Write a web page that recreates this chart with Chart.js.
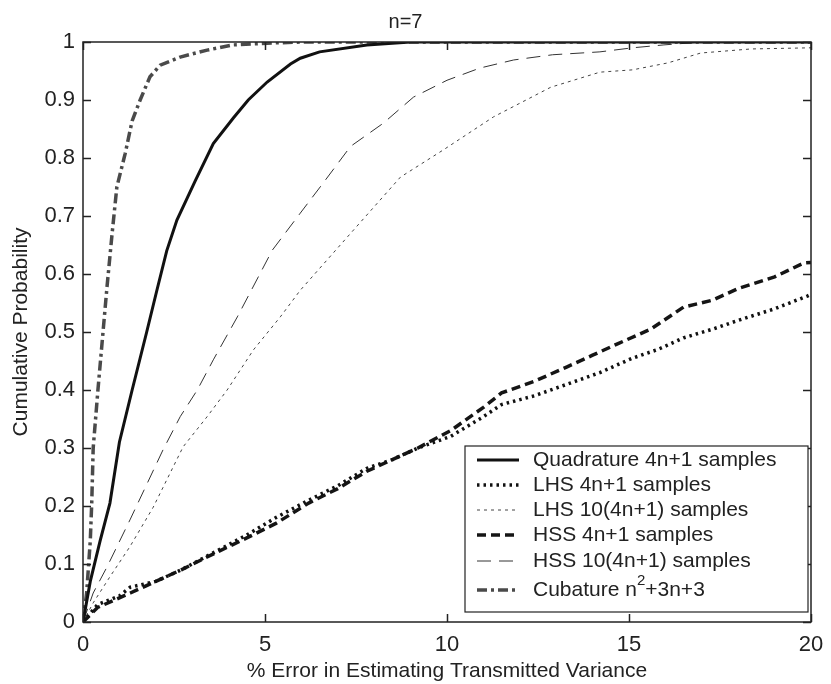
<!DOCTYPE html>
<html lang="en">
  <head>
    <title>n=7</title>
    <meta charset="utf-8">
    <script src="https://cdn.jsdelivr.net/npm/chart.js@4.4.1/dist/chart.umd.min.js"></script>
    <style>
      body { margin: 0; background: #fff; }
    </style>
  </head>
  <body>
    <canvas id="chart_cdf" width="831" height="684"></canvas>

    <script>
      // values: x = % error, y = cumulative probability
      const quadX = [0, 0.2, 0.47, 0.74, 1.0, 1.35, 1.75, 2.03, 2.3, 2.58, 3.08, 3.58, 4.13, 4.54, 5.06, 5.7, 5.97, 6.5, 7.8, 9.0, 20];
      const quadY = [0, 0.07, 0.14, 0.205, 0.31, 0.4, 0.5, 0.572, 0.64, 0.693, 0.76, 0.825, 0.869, 0.9, 0.931, 0.962, 0.972, 0.983, 0.995, 1, 1];

      const lhsX = [0, 0.4, 1.0, 1.3, 2.0, 2.7, 3.6, 4.5, 5.3, 6.2, 7.0, 7.8, 8.5, 9.2, 10.1, 11.0, 11.5, 12.4, 13.3, 14.2, 15.1, 15.8, 16.5, 17.3, 18.0, 19.0, 19.9, 20];
      const lhsY = [0, 0.03, 0.045, 0.06, 0.07, 0.09, 0.12, 0.15, 0.18, 0.21, 0.235, 0.265, 0.28, 0.3, 0.32, 0.354, 0.375, 0.39, 0.41, 0.43, 0.455, 0.47, 0.49, 0.505, 0.52, 0.54, 0.562, 0.565];

      const lhs10X = [0, 0.28, 0.74, 1.29, 1.93, 2.75, 3.41, 3.96, 4.68, 5.42, 5.97, 7.35, 8.72, 9.9, 11.28, 12.85, 14.2, 15.1, 16.07, 16.97, 18.35, 20];
      const lhs10Y = [0, 0.033, 0.078, 0.13, 0.198, 0.302, 0.354, 0.4, 0.469, 0.526, 0.572, 0.67, 0.767, 0.814, 0.871, 0.922, 0.948, 0.952, 0.964, 0.981, 0.988, 0.99];

      const hssX = [0, 0.4, 1.3, 2.0, 2.7, 3.6, 4.5, 5.3, 6.2, 7.0, 7.8, 8.5, 9.2, 10.1, 11.0, 11.5, 12.4, 13.3, 14.0, 14.7, 15.6, 16.5, 17.3, 18.0, 19.0, 19.8, 20];
      const hssY = [0, 0.025, 0.05, 0.07, 0.09, 0.118, 0.145, 0.17, 0.205, 0.23, 0.26, 0.28, 0.3, 0.33, 0.37, 0.395, 0.415, 0.44, 0.46, 0.48, 0.505, 0.543, 0.555, 0.575, 0.595, 0.619, 0.62];

      const hss10X = [0, 0.28, 0.66, 1.29, 2.2, 2.67, 3.14, 3.58, 4.24, 5.2, 5.97, 6.6, 7.35, 8.25, 9.08, 10, 10.9, 11.83, 12.9, 14.2, 15.1, 15.96, 17, 20];
      const hss10Y = [0, 0.05, 0.095, 0.176, 0.297, 0.354, 0.4, 0.452, 0.526, 0.641, 0.705, 0.757, 0.82, 0.86, 0.905, 0.934, 0.955, 0.969, 0.978, 0.983, 0.99, 0.995, 1, 1];

      const cubX = [0, 0.1, 0.2, 0.24, 0.28, 0.41, 0.55, 0.66, 0.8, 0.93, 1.16, 1.35, 1.57, 1.84, 2.12, 2.67, 3.41, 4.13, 5.06, 6, 20];
      const cubY = [0, 0.05, 0.14, 0.205, 0.3, 0.4, 0.5, 0.578, 0.67, 0.75, 0.808, 0.864, 0.9, 0.94, 0.96, 0.974, 0.986, 0.995, 0.998, 1, 1];

      const seriesLabels = ['Quadrature 4n+1 samples', 'LHS 4n+1 samples', 'LHS 10(4n+1) samples',
                            'HSS 4n+1 samples', 'HSS 10(4n+1) samples', 'Cubature n\u00b2+3n+3'];

      const FONT = "'Liberation Sans', Arial, sans-serif";

      function pts(xs, ys) {
        return xs.map((v, i) => ({x: v, y: ys[i]}));
      }

      // box round the plot with MATLAB style inward ticks on all four sides
      const frame = {
        id: 'frame',
        afterDatasetsDraw(chart) {
          const {ctx, chartArea: a, scales: {x, y}} = chart;
          const len = 8;
          ctx.save();
          ctx.strokeStyle = '#222';
          ctx.lineWidth = 1.5;
          ctx.strokeRect(a.left, a.top, a.right - a.left, a.bottom - a.top);
          ctx.beginPath();
          x.ticks.forEach(t => {
            const px = Math.round(x.getPixelForValue(t.value)) + 0.5;
            ctx.moveTo(px, a.bottom); ctx.lineTo(px, a.bottom - len);
            ctx.moveTo(px, a.top); ctx.lineTo(px, a.top + len);
          });
          y.ticks.forEach(t => {
            const py = Math.round(y.getPixelForValue(t.value)) + 0.5;
            ctx.moveTo(a.left, py); ctx.lineTo(a.left + len, py);
            ctx.moveTo(a.right, py); ctx.lineTo(a.right - len, py);
          });
          ctx.stroke();
          ctx.restore();
        }
      };

      // legend box in the lower right corner, with line samples
      const boxLegend = {
        id: 'boxLegend',
        afterDraw(chart) {
          const {ctx, chartArea: a} = chart;
          const right = a.right - 3, bottom = a.bottom - 10;
          const w = 343, h = 166;
          const left = right - w, top = bottom - h;
          const rows = [14, 39, 64, 89, 115, 144];
          ctx.save();
          ctx.fillStyle = '#fff';
          ctx.fillRect(left, top, w, h);
          ctx.strokeStyle = '#222';
          ctx.lineWidth = 1.2;
          ctx.strokeRect(left, top, w, h);
          chart.data.datasets.forEach((ds, i) => {
            const yy = top + rows[i];
            ctx.save();
            ctx.strokeStyle = ds.borderColor;
            ctx.lineWidth = ds.borderWidth;
            ctx.setLineDash(ds.borderDash || []);
            ctx.beginPath();
            ctx.moveTo(left + 12, yy);
            ctx.lineTo(left + 54, yy);
            ctx.stroke();
            ctx.restore();

            ctx.fillStyle = '#222';
            ctx.textBaseline = 'middle';
            ctx.font = '21px ' + FONT;
            let tx = left + 68;
            // draw a superscript for the squared term
            ds.label.split(/(\u00b2)/).forEach(part => {
              if (part === '\u00b2') {
                ctx.font = '15px ' + FONT;
                ctx.fillText('2', tx, yy - 9);
                tx += ctx.measureText('2').width;
                ctx.font = '21px ' + FONT;
              } else {
                ctx.fillText(part, tx, yy);
                tx += ctx.measureText(part).width;
              }
            });
          });
          ctx.restore();
        }
      };

      const chart = new Chart('chart_cdf', {
        type: 'line',
        data: {
          datasets: [
            { label: seriesLabels[0], data: pts(quadX, quadY), borderColor: '#111', borderWidth: 3, borderDash: [] },
            { label: seriesLabels[1], data: pts(lhsX, lhsY), borderColor: '#111', borderWidth: 3.5, borderDash: [2.5, 4] },
            { label: seriesLabels[2], data: pts(lhs10X, lhs10Y), borderColor: '#444', borderWidth: 1, borderDash: [3, 4] },
            { label: seriesLabels[3], data: pts(hssX, hssY), borderColor: '#151515', borderWidth: 3.5, borderDash: [9, 5] },
            { label: seriesLabels[4], data: pts(hss10X, hss10Y), borderColor: '#333', borderWidth: 1, borderDash: [14, 8] },
            { label: seriesLabels[5], data: pts(cubX, cubY), borderColor: '#4a4a4a', borderWidth: 3.5, borderDash: [10, 4, 3, 4] }
          ]
        },
        options: {
          responsive: false,
          animation: false,
          parsing: false,
          elements: {
            point: { radius: 0 },
            line: { tension: 0, fill: false, borderCapStyle: 'butt' }
          },
          layout: { padding: { left: 0, right: 20, top: 0, bottom: 0 } },
          plugins: {
            legend: { display: false },
            tooltip: { enabled: false },
            title: {
              display: true,
              text: 'n=7',
              color: '#222',
              font: { family: FONT, size: 20, weight: 'normal' },
              padding: { top: 10, bottom: 8 }
            }
          },
          scales: {
            x: {
              type: 'linear',
              min: 0, max: 20,
              grid: { display: false },
              border: { display: false },
              ticks: { stepSize: 5, color: '#222', padding: 2, font: { family: FONT, size: 22 } },
              title: {
                display: true,
                text: '% Error in Estimating Transmitted Variance',
                color: '#222',
                font: { family: FONT, size: 21 },
                padding: { top: 0, bottom: 0 }
              },
              afterFit(scale) {
                scale.height = 62;
                scale.paddingLeft = 0;
                scale.paddingRight = 0;
              }
            },
            y: {
              type: 'linear',
              min: 0, max: 1,
              grid: { display: false },
              border: { display: false },
              ticks: {
                stepSize: 0.1, color: '#222', padding: 0,
                font: { family: FONT, size: 22 },
                callback: v => String(+v.toFixed(1))
              },
              title: {
                display: true,
                text: 'Cumulative Probability',
                color: '#222',
                font: { family: FONT, size: 21 },
                padding: { top: 9, bottom: 0 }
              },
              afterFit(scale) {
                scale.width = 83;
                scale.paddingTop = 0;
                scale.paddingBottom = 0;
              }
            }
          }
        },
        plugins: [frame, boxLegend]
      });
    </script>
  </body>
</html>
